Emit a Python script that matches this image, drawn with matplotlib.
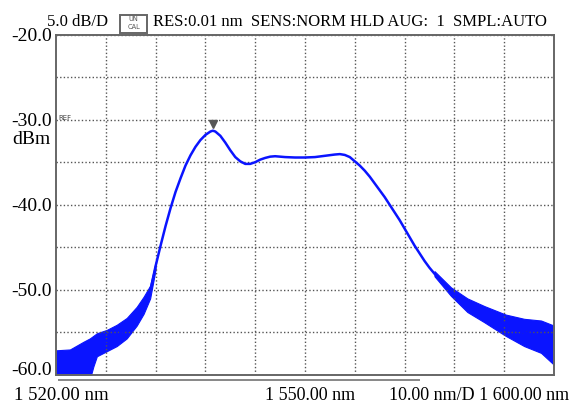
import matplotlib
matplotlib.use("Agg")
import matplotlib.pyplot as plt
from matplotlib.patches import Rectangle

# ---- data ----
wavelength_nm = [1500, 1502.8, 1505.5, 1506.8, 1508.2, 1510.2, 1512.2, 1514.2, 1516.2, 1517.6,
                 1518.9, 1520, 1521, 1522, 1523, 1524, 1525, 1526, 1527, 1528, 1529, 1530,
                 1531, 1531.5, 1532, 1533, 1534, 1535, 1536, 1537, 1538, 1539, 1540, 1541,
                 1542, 1543, 1544, 1546, 1548, 1550, 1552, 1554, 1556, 1557, 1558, 1559,
                 1560, 1561, 1562, 1563, 1564, 1565, 1566, 1567, 1568, 1569, 1570, 1571,
                 1572, 1573, 1574, 1575, 1576, 1578, 1579.3, 1580, 1582.6, 1586, 1590.3,
                 1594, 1597.4, 1600]
level_dbm = [-58.6, -58.5, -58.1, -57.9, -56.5, -56.0, -55.4, -54.5, -53.1, -51.8,
             -50.2, -47.2, -44.8, -42.5, -40.4, -38.5, -36.9, -35.4, -34.2, -33.2, -32.4, -31.8,
             -31.4, -31.3, -31.4, -31.9, -32.7, -33.6, -34.4, -34.9, -35.2, -35.2, -35.0, -34.7,
             -34.5, -34.35, -34.3, -34.4, -34.45, -34.45, -34.4, -34.25, -34.1, -34.05, -34.15, -34.4,
             -34.9, -35.4, -36.0, -36.7, -37.5, -38.3, -39.1, -40.0, -40.9, -41.8, -42.8, -43.8,
             -44.8, -45.7, -46.6, -47.4, -48.1, -49.4, -50.2, -50.5, -51.8, -52.9, -54.1,
             -55.0, -55.5, -56.5]

# noise band envelopes at the two ends of the span
noise_left_nm = [1500, 1502.8, 1505.5, 1506.8, 1507.5, 1508.2, 1510.2, 1512.2, 1514.2, 1516.2,
                 1517.6, 1518.9, 1520]
noise_left_top = [-57.1, -57.0, -56.1, -55.7, -55.4, -55.1, -54.7, -54.1, -53.3, -52.0,
                  -50.8, -49.5, -46.8]
noise_left_bottom = [-60.5, -60.5, -60.5, -60.5, -59.0, -57.8, -57.2, -56.6, -55.7, -54.2,
                     -52.8, -51.0, -47.6]
noise_right_nm = [1576, 1579.3, 1582.6, 1586, 1590.3, 1594, 1597.4, 1600]
noise_right_top = [-47.8, -49.7, -51.0, -51.9, -52.9, -53.4, -53.6, -54.2]
noise_right_bottom = [-48.4, -50.7, -52.6, -53.8, -55.4, -56.6, -57.4, -58.8]

peak_nm = 1531.5
peak_dbm = -31.3

y_tick_values = [-60, -50, -40, -30, -20]
y_tick_labels = ["-60.0", "-50.0", "-40.0", "-30.0", "-20.0"]
x_start_label = "1 520.00 nm"
x_center_label = "1 550.00 nm"
x_end_label = "10.00 nm/D 1 600.00 nm"
header_scale = "5.0 dB/D"
header_info = "RES:0.01 nm  SENS:NORM HLD AUG:  1  SMPL:AUTO"

# ---- figure ----
W, H = 572, 403
fig = plt.figure(figsize=(W / 100, H / 100), dpi=100)
L, R, T, B = 56, 554, 34.5, 375
ax = fig.add_axes([L / W, 1 - B / H, (R - L) / W, (B - T) / H])
ax.set_xlim(1500, 1600)
ax.set_ylim(-60, -20)

font = "Liberation Serif"
blue = "#0a14ff"
grid_c = "#555555"

ax.set_xticks([1510 + 10 * i for i in range(9)])
ax.set_yticks(y_tick_values)
ax.set_yticks([-55, -45, -35, -25], minor=True)
ax.set_yticklabels(y_tick_labels, fontfamily=font, fontsize=14)
ax.get_yticklabels()[0].set_verticalalignment("baseline")
ax.set_xticklabels([])
ax.tick_params(axis="both", which="both", length=0, pad=3)
ax.grid(True, which="both", color=grid_c, linestyle=(0, (1, 1.6)), linewidth=1.0)
for s in ax.spines.values():
    s.set_color("#666666")
    s.set_linewidth(1.4)

ax.fill_between(noise_left_nm, noise_left_bottom, noise_left_top, color=blue, linewidth=0.8)
ax.fill_between(noise_right_nm, noise_right_bottom, noise_right_top, color=blue, linewidth=0.8)
ax.plot(wavelength_nm, level_dbm, color=blue, linewidth=1.8, solid_joinstyle="round")

# peak marker
ax.plot([peak_nm], [peak_dbm + 0.75], marker="v", color="#555555", markersize=5.5, clip_on=False)

# text
fig.text(12 / W, 1 - 139.5 / H, "dBm", fontfamily=font, fontsize=14, va="center", ha="left")
fig.text(58 / W, 1 - 118 / H, "REF", fontfamily="DejaVu Sans", fontsize=5, va="center",
         ha="left", color="#444444")
fig.text(47 / W, 1 - 22 / H, header_scale, fontfamily=font, fontsize=12, va="center", ha="left")
fig.text(153 / W, 1 - 22 / H, header_info, fontfamily=font, fontsize=12, va="center", ha="left")
fig.patches.append(Rectangle((120 / W, 1 - 32.5 / H), 27 / W, 18 / H, transform=fig.transFigure,
                             fill=False, edgecolor="#666666", linewidth=1.4))
fig.text(133.5 / W, 1 - 19 / H, "UN", fontfamily="DejaVu Sans", fontsize=4.8, va="center",
         ha="center", color="#555555")
fig.text(133.5 / W, 1 - 27 / H, "CAL", fontfamily="DejaVu Sans", fontsize=4.8, va="center",
         ha="center", color="#555555")

fig.text(14 / W, 1 - 395 / H, x_start_label, fontfamily=font, fontsize=13.5, va="center", ha="left")
fig.text(310 / W, 1 - 395 / H, x_center_label, fontfamily=font, fontsize=13, va="center", ha="center")
fig.text(569 / W, 1 - 395 / H, x_end_label, fontfamily=font, fontsize=13, va="center", ha="right")

# scroll bar below the axis
fig.patches.append(Rectangle((58 / W, 1 - 381 / H), 362 / W, 2.5 / H, transform=fig.transFigure,
                             color="#8a8a8a", linewidth=0))

fig.savefig("out.png", dpi=100)
